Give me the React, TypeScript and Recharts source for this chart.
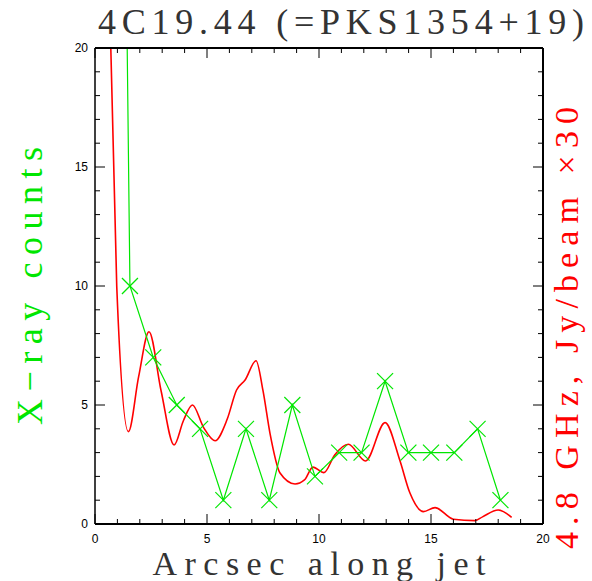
import { LineChart, Line, XAxis, YAxis } from "recharts";

// X-ray counts per bin (green)
const xrayPos = [0.52, 1.56, 2.6, 3.65, 4.69, 5.73, 6.74, 7.78, 8.81, 9.82, 10.9, 11.9, 12.95, 13.99, 15.0, 16.04, 17.08, 18.1];
const xrayCounts = [95, 10, 7, 5, 4, 1, 4, 1, 5, 2, 3, 3, 6, 3, 3, 3, 4, 1];

// 4.8 GHz radio profile x30 (red)
const radioPos = [0.6, 0.97, 1.49, 1.95, 2.41, 2.95, 3.53, 3.95, 4.35, 4.85, 5.36, 5.9, 6.32, 6.7, 7.19, 7.5, 7.81, 8.26, 8.93, 9.35, 9.73, 10.22, 10.7, 11.31, 12.08, 12.95, 13.6, 14.06, 14.66, 15.18, 16.0, 16.96, 17.3, 18.0, 18.6];
const radioFlux = [24, 10, 3.88, 6.2, 8.08, 5.6, 3.32, 4.35, 5.0, 4.05, 3.5, 4.4, 5.63, 6.05, 6.86, 5.6, 3.82, 2.14, 1.68, 1.85, 2.39, 2.16, 2.9, 3.35, 2.65, 4.26, 2.7, 1.3, 0.52, 0.69, 0.2, 0.14, 0.3, 0.59, 0.28];

const axisTicks = [0, 1, 2, 3, 4, 5, 6, 7, 8, 9, 10, 11, 12, 13, 14, 15, 16, 17, 18, 19, 20];

const GREEN = "#00e600";
const RED = "#ff0000";
const INK = "#333";
const SERIF = "'Liberation Serif', 'DejaVu Serif', serif";
const SANS = "'Liberation Sans', Arial, sans-serif";

const xrayData = xrayPos.map((x, i) => ({ x, counts: xrayCounts[i] }));
const radioData = radioPos.map((x, i) => ({ x, flux: radioFlux[i] }));

const tickLen = (v: number) => (v % 5 === 0 ? 10 : 5);

const BottomTick = (props: any) => {
  const { x, y, payload } = props;
  const v = payload.value;
  return (
    <g>
      <line x1={x} x2={x} y1={y} y2={y - tickLen(v)} stroke="#000" strokeWidth={1} />
      {v % 5 === 0 && (
        <text x={x} y={y + 15} textAnchor="middle" dominantBaseline="central" fontFamily={SANS} fontSize={12} fill="#000">
          {v}
        </text>
      )}
    </g>
  );
};

const TopTick = (props: any) => {
  const { x, y, payload } = props;
  return <line x1={x} x2={x} y1={y} y2={y + tickLen(payload.value)} stroke="#000" strokeWidth={1} />;
};

const LeftTick = (props: any) => {
  const { x, y, payload } = props;
  const v = payload.value;
  return (
    <g>
      <line x1={x} x2={x + tickLen(v)} y1={y} y2={y} stroke="#000" strokeWidth={1} />
      {v % 5 === 0 && (
        <text x={x - 7} y={y} textAnchor="end" dominantBaseline="central" fontFamily={SANS} fontSize={12} fill="#000">
          {v}
        </text>
      )}
    </g>
  );
};

const RightTick = (props: any) => {
  const { x, y, payload } = props;
  return <line x1={x} x2={x - tickLen(payload.value)} y1={y} y2={y} stroke="#000" strokeWidth={1} />;
};

const CrossDot = (props: any) => {
  const { cx, cy, index } = props;
  if (cx == null || cy == null) return <g key={index} />;
  const s = 8;
  return (
    <g key={index}>
      <line x1={cx - s} y1={cy - s} x2={cx + s} y2={cy + s} stroke={GREEN} strokeWidth={1.2} />
      <line x1={cx - s} y1={cy + s} x2={cx + s} y2={cy - s} stroke={GREEN} strokeWidth={1.2} />
    </g>
  );
};

const titleLabel = (props: any) => {
  const vb = props.viewBox || { x: 95, y: 0, width: 448, height: 48 };
  return (
    <text x={vb.x + vb.width / 2 + 22} y={34} textAnchor="middle" fontFamily={SERIF} fontSize={36} fill={INK} textLength={486} lengthAdjust="spacing">
      4C19.44 (=PKS1354+19)
    </text>
  );
};

const xLabel = (props: any) => {
  const vb = props.viewBox || { x: 95, y: 524, width: 448, height: 57 };
  return (
    <text x={vb.x + vb.width / 2} y={vb.y + 51} textAnchor="middle" fontFamily={SERIF} fontSize={34} fill={INK} textLength={333} lengthAdjust="spacing">
      Arcsec along jet
    </text>
  );
};

const leftLabel = (props: any) => {
  const vb = props.viewBox || { x: 0, y: 48, width: 95, height: 476 };
  const cx = 30;
  const cy = vb.y + vb.height / 2;
  return (
    <text x={cx} y={cy} transform={`rotate(-90 ${cx} ${cy})`} textAnchor="middle" dominantBaseline="central" fontFamily={SERIF} fontSize={36} fill={GREEN} textLength={278} lengthAdjust="spacing">
      X−ray counts
    </text>
  );
};

const rightLabel = () => {
  const cx = 566;
  const cy = 328;
  return (
    <text x={cx} y={cy} transform={`rotate(-90 ${cx} ${cy})`} textAnchor="middle" dominantBaseline="central" fontFamily={SERIF} fontSize={34} fill={RED} textLength={442} lengthAdjust="spacing">
      4.8 GHz, Jy/beam ×30
    </text>
  );
};

export default function App() {
  return (
    <div style={{ position: "absolute", left: 0, top: 0, width: 592, height: 581, background: "#fff" }}>
      <LineChart width={592} height={581} margin={{ top: 0, right: 0, bottom: 0, left: 0 }}>
        <XAxis
          xAxisId="bottom"
          type="number"
          dataKey="x"
          orientation="bottom"
          domain={[0, 20]}
          ticks={axisTicks}
          allowDataOverflow
          height={57}
          tickSize={0}
          tickMargin={0}
          tick={BottomTick}
          axisLine={{ stroke: "#000", strokeWidth: 2 }}
          interval={0}
          label={{ content: xLabel }}
        />
        <XAxis
          xAxisId="top"
          type="number"
          dataKey="x"
          orientation="top"
          domain={[0, 20]}
          ticks={axisTicks}
          allowDataOverflow
          height={48}
          tickSize={0}
          tickMargin={0}
          tick={TopTick}
          axisLine={{ stroke: "#000", strokeWidth: 2 }}
          interval={0}
          label={{ content: titleLabel }}
        />
        <YAxis
          yAxisId="left"
          type="number"
          orientation="left"
          domain={[0, 20]}
          ticks={axisTicks}
          allowDataOverflow
          width={95}
          tickSize={0}
          tickMargin={0}
          tick={LeftTick}
          axisLine={{ stroke: "#000", strokeWidth: 1.5 }}
          interval={0}
          label={{ content: leftLabel }}
        />
        <YAxis
          yAxisId="right"
          type="number"
          orientation="right"
          domain={[0, 20]}
          ticks={axisTicks}
          allowDataOverflow
          width={49}
          tickSize={0}
          tickMargin={0}
          tick={RightTick}
          axisLine={{ stroke: "#000", strokeWidth: 2 }}
          interval={0}
          label={{ content: rightLabel }}
        />
        <Line
          data={radioData}
          xAxisId="top"
          yAxisId="right"
          dataKey="flux"
          type="monotone"
          stroke={RED}
          strokeWidth={1.6}
          dot={false}
          activeDot={false}
          isAnimationActive={false}
        />
        <Line
          data={xrayData}
          xAxisId="bottom"
          yAxisId="left"
          dataKey="counts"
          type="linear"
          stroke={GREEN}
          strokeWidth={1.2}
          dot={CrossDot}
          activeDot={false}
          isAnimationActive={false}
        />
      </LineChart>
    </div>
  );
}
